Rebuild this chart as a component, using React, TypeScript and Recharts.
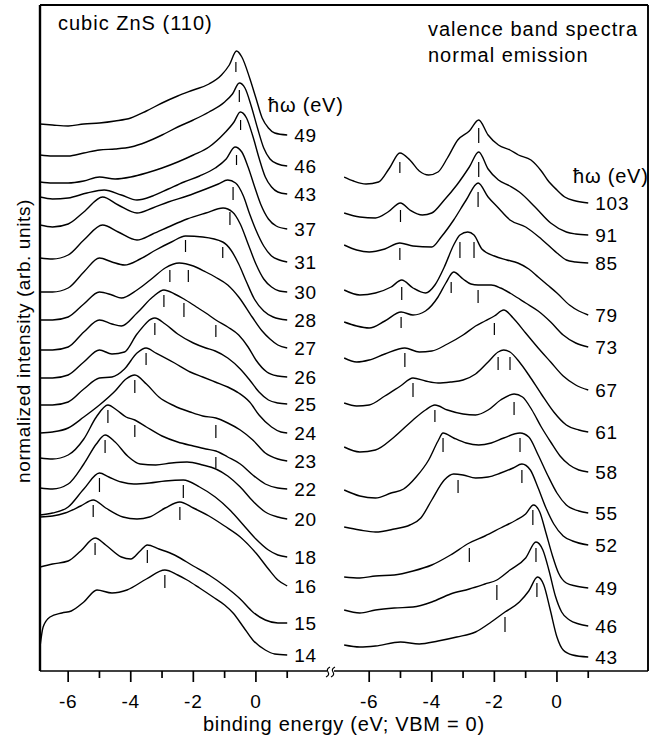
import React from 'react';
import { LineChart, Line, XAxis, YAxis, ReferenceLine, LabelList } from 'recharts';

type Pt = [number, number];
type Pt3 = [number, number, number];

const FONT = "'Liberation Sans', Arial, Helvetica, sans-serif";
const INK = '#000';

// right panel energies are drawn shifted by this many eV on one shared axis
const RIGHT_SHIFT = 9.62;
const X_MIN = -6.9;
const X_MAX = 12.53;
const Y_MAX = 666;

const axisEnergies = [-6, -5, -4, -3, -2, -1, 0, 1];

// ---- left panel: hv (eV), baseline offset, spectrum [binding energy, intensity above baseline]
const leftHv = [49, 46, 43, 37, 31, 30, 28, 27, 26, 25, 24, 23, 22, 20, 18, 16, 15, 14];
const leftBase = [536, 505, 477, 442, 409, 379, 351, 323, 294, 267, 238, 210, 182, 152, 114, 85, 48, 16];

const l49: Pt[] = [[-6.9, 11], [-6.5, 10], [-6, 9], [-5.5, 11], [-5, 12], [-4.5, 14], [-4, 17], [-3.5, 24], [-3, 32], [-2.5, 39], [-2, 45], [-1.5, 51], [-1.1, 60], [-0.85, 70], [-0.62, 84], [-0.45, 78], [-0.2, 57], [0, 37], [0.2, 17], [0.4, 7], [0.6, 2], [1, 0]];
const l46: Pt[] = [[-6.9, 11], [-6.5, 10], [-6, 10], [-5.5, 13], [-5, 16], [-4.5, 17], [-4, 19], [-3.5, 24], [-3, 31], [-2.5, 39], [-2, 46], [-1.5, 54], [-1, 64], [-0.75, 72], [-0.53, 83], [-0.35, 78], [-0.15, 60], [0.05, 38], [0.25, 18], [0.45, 7], [0.7, 2], [1, 0]];
const l43: Pt[] = [[-6.9, 12], [-6.5, 11], [-6, 11], [-5.5, 13], [-5, 17], [-4.5, 15], [-4, 17], [-3.5, 21], [-3, 26], [-2.5, 32], [-2, 39], [-1.5, 47], [-1, 61], [-0.7, 72], [-0.5, 82], [-0.3, 76], [-0.1, 58], [0.1, 36], [0.3, 17], [0.5, 7], [0.7, 2], [1, 0]];
const l37: Pt[] = [[-6.9, 32], [-6.5, 30], [-6, 31], [-5.4, 36], [-4.85, 39], [-4.3, 34], [-3.8, 29], [-3.3, 33], [-2.8, 40], [-2.3, 47], [-1.8, 53], [-1.3, 61], [-0.95, 70], [-0.67, 82], [-0.45, 77], [-0.25, 62], [-0.05, 43], [0.15, 25], [0.4, 10], [0.65, 3], [1, 0]];
const l31: Pt[] = [[-6.9, 37], [-6.5, 35], [-6, 38], [-5.5, 50], [-4.9, 65], [-4.4, 57], [-3.8, 49], [-3.3, 54], [-2.8, 60], [-2.2, 66], [-1.6, 73], [-1.2, 78], [-0.9, 82], [-0.65, 79], [-0.4, 66], [-0.2, 48], [0, 32], [0.25, 16], [0.5, 6], [0.75, 2], [1, 0]];
const l30: Pt[] = [[-6.9, 34], [-6.5, 33], [-6, 37], [-5.5, 52], [-4.9, 67], [-4.4, 60], [-3.8, 52], [-3.3, 58], [-2.8, 65], [-2.2, 73], [-1.6, 79], [-1.05, 84], [-0.75, 80], [-0.5, 68], [-0.25, 48], [0, 28], [0.25, 13], [0.5, 5], [0.75, 1], [1, 0]];
const l28: Pt[] = [[-6.9, 28], [-6.5, 28], [-6, 32], [-5.5, 48], [-5, 62], [-4.6, 58], [-4.2, 55], [-3.7, 61], [-3.2, 70], [-2.7, 78], [-2.25, 84], [-1.7, 83], [-1.06, 78], [-0.8, 70], [-0.55, 56], [-0.3, 38], [-0.05, 21], [0.25, 9], [0.55, 3], [1, 0]];
const l27: Pt[] = [[-6.9, 28], [-6.5, 28], [-6, 31], [-5.5, 44], [-5, 56], [-4.6, 53], [-4.3, 50], [-3.8, 58], [-3.3, 70], [-2.9, 80], [-2.45, 85], [-2, 82], [-1.6, 76], [-1.3, 71], [-0.9, 63], [-0.55, 51], [-0.12, 31], [0.2, 17], [0.45, 9], [0.7, 3], [1, 0]];
const l26: Pt[] = [[-6.9, 27], [-6.5, 27], [-6, 30], [-5.5, 45], [-5, 57], [-4.6, 53], [-4.3, 51], [-3.8, 64], [-3.3, 80], [-2.94, 87], [-2.6, 83], [-2.3, 78], [-1.9, 70], [-1.6, 64], [-1.28, 57], [-0.9, 50], [-0.55, 42], [-0.25, 30], [0, 17], [0.35, 5], [0.7, 1], [1, 0]];
const l25: Pt[] = [[-6.9, 26], [-6.5, 26], [-6, 29], [-5.5, 42], [-5, 54], [-4.6, 50], [-4.2, 52], [-3.8, 70], [-3.23, 86], [-2.9, 80], [-2.5, 70], [-2, 61], [-1.6, 56], [-1.3, 53], [-0.9, 46], [-0.5, 35], [-0.2, 24], [0.1, 12], [0.4, 4], [0.7, 1], [1, 0]];
const l24: Pt[] = [[-6.9, 28], [-6.5, 28], [-6, 31], [-5.5, 44], [-5, 55], [-4.6, 56], [-4.2, 64], [-3.8, 80], [-3.51, 85], [-3.2, 80], [-2.6, 70], [-2.1, 61], [-1.7, 56], [-1.3, 51], [-0.9, 46], [-0.55, 40], [-0.2, 31], [0.1, 18], [0.5, 6], [0.8, 1], [1, 0]];
const l23: Pt[] = [[-6.9, 28], [-6.5, 29], [-6, 33], [-5.5, 44], [-5, 56], [-4.5, 70], [-4.15, 82], [-3.87, 86], [-3.5, 77], [-3.1, 64], [-2.6, 55], [-2.1, 49], [-1.7, 45], [-1.28, 43], [-0.9, 38], [-0.5, 31], [-0.1, 21], [0.3, 8], [0.7, 2], [1, 0]];
const l22: Pt[] = [[-6.9, 31], [-6.5, 30], [-6, 34], [-5.5, 50], [-5.1, 72], [-4.73, 84], [-4.45, 79], [-4.15, 72], [-3.87, 69], [-3.5, 62], [-3, 53], [-2.5, 47], [-2, 43], [-1.6, 40], [-1.28, 38], [-0.9, 32], [-0.5, 25], [-0.1, 14], [0.3, 5], [0.7, 1], [1, 0]];
const l20: Pt[] = [[-6.9, 31], [-6.5, 30], [-6, 35], [-5.5, 55], [-5.1, 75], [-4.82, 84], [-4.5, 77], [-4.1, 63], [-3.7, 55], [-3.2, 54], [-2.7, 56], [-2.2, 57], [-1.7, 54], [-1.28, 50], [-0.9, 43], [-0.5, 32], [-0.1, 18], [0.3, 7], [0.7, 2], [1, 0]];
const l18: Pt[] = [[-6.9, 42], [-6.5, 44], [-6, 50], [-5.5, 68], [-5, 84], [-4.7, 80], [-4.3, 75], [-3.9, 73], [-3.4, 74], [-2.9, 76], [-2.32, 77], [-1.8, 70], [-1.3, 60], [-0.8, 46], [-0.4, 32], [0, 18], [0.4, 7], [0.7, 2], [1, 0]];
const l16: Pt[] = [[-6.9, 69], [-6.5, 70], [-6.1, 73], [-5.6, 80], [-5.2, 86], [-4.8, 78], [-4.25, 69], [-3.8, 67], [-3.4, 69], [-2.9, 78], [-2.43, 84], [-2, 78], [-1.5, 70], [-1, 60], [-0.5, 49], [0, 33], [0.4, 17], [0.7, 6], [1, 0]];
const l15: Pt[] = [[-6.9, 56], [-6.5, 59], [-6, 62], [-5.6, 72], [-5.14, 85], [-4.8, 78], [-4.3, 66], [-4, 64], [-3.7, 72], [-3.47, 78], [-3.1, 74], [-2.6, 68], [-2, 57], [-1.5, 48], [-1, 37], [-0.5, 24], [-0.1, 11], [0.3, 3], [0.7, 0], [1, 0]];
const l14: Pt[] = [[-6.9, 8], [-6.8, 28], [-6.58, 38], [-6.2, 42], [-5.9, 44], [-5.5, 53], [-5.08, 65], [-4.6, 62], [-4.12, 65], [-3.5, 76], [-2.91, 85], [-2.5, 80], [-2.2, 75], [-1.8, 67], [-1.37, 58], [-1, 50], [-0.73, 42], [-0.4, 28], [-0.1, 15], [0.3, 5], [0.6, 1], [1, 0]];

const leftSpectra = [l49, l46, l43, l37, l31, l30, l28, l27, l26, l25, l24, l23, l22, l20, l18, l16, l15, l14];

// ---- right panel
const rightHv = [103, 91, 85, 79, 73, 67, 61, 58, 55, 52, 49, 46, 43];
const rightBase = [468, 436, 408, 356, 324, 281, 239, 199, 158, 126, 83, 45, 14];

const r103: Pt[] = [[-6.8, 26], [-6.5, 22], [-6.1, 19], [-5.7, 21], [-5.35, 35], [-5.02, 50], [-4.7, 43], [-4.4, 32], [-4.1, 28], [-3.8, 31], [-3.5, 45], [-3.17, 63], [-2.8, 72], [-2.5, 83], [-2.2, 68], [-1.87, 58], [-1.5, 53], [-1.23, 48], [-0.83, 43], [-0.5, 32], [-0.3, 23], [0, 13], [0.25, 6], [0.6, 2], [1, 0]];
const r91: Pt[] = [[-6.8, 22], [-6.3, 18], [-5.8, 17], [-5.4, 23], [-5, 32], [-4.7, 25], [-4.3, 20], [-4, 22], [-3.6, 35], [-3.2, 50], [-2.8, 68], [-2.5, 83], [-2.2, 66], [-1.87, 55], [-1.5, 49], [-1.2, 43], [-0.7, 28], [-0.2, 12], [0.3, 3], [0.6, 1], [1, 0]];
const r85: Pt[] = [[-6.8, 18], [-6.4, 13], [-6, 11], [-5.5, 14], [-5.02, 20], [-4.6, 17], [-4, 16], [-3.7, 26], [-3.3, 43], [-2.9, 63], [-2.52, 80], [-2.2, 66], [-1.9, 56], [-1.5, 43], [-1, 36], [-0.5, 24], [0, 10], [0.3, 3], [0.6, 1], [1, 0]];
const r79: Pt[] = [[-6.8, 25], [-6.3, 20], [-5.8, 22], [-5.3, 28], [-4.96, 35], [-4.6, 27], [-4.2, 22], [-3.9, 30], [-3.6, 48], [-3.3, 70], [-3.1, 80], [-2.85, 83], [-2.65, 80], [-2.4, 66], [-2, 59], [-1.6, 55], [-1.25, 52], [-0.9, 46], [-0.6, 38], [-0.3, 30], [0, 22], [0.4, 10], [0.7, 4], [1, 0]];
const r73: Pt[] = [[-6.8, 25], [-6.4, 21], [-6, 19], [-5.5, 26], [-4.98, 35], [-4.6, 32], [-4.2, 36], [-3.8, 50], [-3.55, 64], [-3.3, 75], [-3, 68], [-2.75, 63], [-2.52, 62], [-2.1, 62], [-1.8, 59], [-1.4, 52], [-1, 44], [-0.6, 36], [-0.2, 25], [0.2, 12], [0.6, 4], [1, 0]];
const r67: Pt[] = [[-6.8, 32], [-6.4, 28], [-6, 30], [-5.5, 36], [-4.86, 42], [-4.4, 38], [-4, 39], [-3.5, 46], [-3, 55], [-2.6, 64], [-2.3, 69], [-2, 74], [-1.7, 80], [-1.4, 72], [-1, 57], [-0.6, 42], [-0.2, 28], [0.2, 14], [0.6, 5], [1, 0]];
const r61: Pt[] = [[-6.8, 29], [-6.4, 26], [-6, 27], [-5.5, 36], [-5, 46], [-4.6, 54], [-4.2, 51], [-3.8, 49], [-3.4, 50], [-3, 52], [-2.6, 58], [-2.2, 70], [-1.88, 80], [-1.7, 82], [-1.5, 80], [-1.2, 70], [-0.9, 57], [-0.5, 38], [-0.1, 20], [0.3, 7], [0.7, 2], [1, 0]];
const r58: Pt[] = [[-6.8, 25], [-6.3, 20], [-5.8, 22], [-5.2, 35], [-4.6, 52], [-4.2, 62], [-3.9, 67], [-3.5, 62], [-3, 58], [-2.6, 57], [-2.2, 62], [-1.8, 72], [-1.37, 78], [-1.1, 75], [-0.8, 62], [-0.5, 45], [-0.2, 30], [0.1, 16], [0.4, 7], [0.7, 2], [1, 0]];
const r55: Pt[] = [[-6.8, 23], [-6.3, 17], [-5.8, 15], [-5.3, 20], [-4.9, 24], [-4.5, 36], [-4.1, 53], [-3.8, 72], [-3.64, 80], [-3.3, 75], [-2.9, 70], [-2.5, 68], [-2.1, 70], [-1.7, 75], [-1.18, 80], [-0.9, 76], [-0.6, 58], [-0.3, 38], [0, 20], [0.3, 8], [0.7, 2], [1, 0]];
const r52: Pt[] = [[-6.8, 18], [-6.3, 15], [-5.8, 13], [-5.2, 16], [-4.7, 20], [-4.35, 27], [-4, 45], [-3.6, 65], [-3.3, 71], [-3, 70], [-2.6, 67], [-2.2, 68], [-1.8, 72], [-1.4, 77], [-1.12, 81], [-0.85, 75], [-0.6, 57], [-0.35, 37], [-0.1, 21], [0.2, 9], [0.5, 4], [1, 0]];
const r49: Pt[] = [[-6.8, 11], [-6.3, 10], [-5.8, 12], [-5.2, 13], [-4.6, 17], [-4, 23], [-3.4, 33], [-2.8, 45], [-2.3, 52], [-1.8, 60], [-1.3, 68], [-1, 74], [-0.75, 83], [-0.55, 76], [-0.35, 55], [-0.15, 33], [0.05, 15], [0.3, 5], [0.6, 2], [1, 0]];
const r46: Pt[] = [[-6.8, 16], [-6.3, 13], [-5.8, 16], [-5.2, 18], [-4.6, 19], [-4, 24], [-3.4, 32], [-2.8, 37], [-2.3, 42], [-1.92, 46], [-1.5, 56], [-1, 68], [-0.67, 84], [-0.45, 76], [-0.25, 55], [-0.05, 30], [0.15, 14], [0.4, 6], [0.7, 2], [1, 0]];
const r43: Pt[] = [[-6.8, 12], [-6.3, 10], [-5.8, 11], [-5, 15], [-4.4, 13], [-3.8, 16], [-3.2, 20], [-2.6, 25], [-2.1, 35], [-1.66, 45], [-1.2, 55], [-0.9, 66], [-0.62, 80], [-0.42, 72], [-0.22, 48], [0, 20], [0.2, 7], [0.5, 2], [1, 0]];

const rightSpectra = [r103, r91, r85, r79, r73, r67, r61, r58, r55, r52, r49, r46, r43];

// peak markers: [binding energy, lower end, upper end] in intensity units
const leftMarks: Pt3[] = [
  [-0.64, 599, 609], [-0.53, 569, 581], [-0.49, 541, 551], [-0.62, 506, 516], [-0.73, 471, 484], [-0.83, 446, 459],
  [-2.25, 419, 431], [-1.06, 413, 424], [-2.75, 389, 401], [-2.16, 389, 401],
  [-2.94, 364, 376], [-2.3, 354, 368], [-1.28, 334, 346], [-3.23, 336, 348], [-3.51, 306, 318],
  [-3.87, 278, 291], [-1.28, 233, 246], [-4.73, 248, 261], [-3.87, 234, 246], [-1.28, 203, 214],
  [-4.82, 218, 231], [-5.0, 179, 193], [-2.32, 173, 186], [-5.2, 154, 166], [-2.43, 151, 164],
  [-5.14, 116, 128], [-3.47, 108, 121], [-2.91, 83, 96],
];
const rightMarks: Pt3[] = [
  [-5.02, 498, 509], [-2.5, 528, 543], [-5.0, 449, 461], [-2.5, 494, 509], [-5.02, 411, 423], [-2.52, 464, 479],
  [-4.96, 371, 384], [-3.1, 413, 429], [-2.65, 413, 429], [-4.98, 343, 354], [-3.38, 378, 389], [-2.52, 368, 381],
  [-4.86, 304, 318], [-2.0, 336, 348], [-4.6, 274, 288], [-1.88, 301, 314], [-1.5, 301, 314],
  [-3.9, 249, 261], [-1.37, 256, 269], [-3.64, 219, 233], [-1.18, 219, 233], [-3.16, 178, 191], [-1.12, 188, 201],
  [-0.77, 146, 161], [-2.8, 109, 123], [-0.67, 109, 123], [-1.92, 71, 86], [-0.64, 74, 88], [-1.66, 39, 54],
];

const toRows = (pts: Pt[], base: number, shift: number) =>
  pts.map(([e, r]) => ({ e: e + shift, v: base + r }));

const endLabel = (hv: number, last: number) => (props: any) => {
  if (props.index !== last) return null;
  return (
    <text x={props.x + 7} y={props.y + 6.5} fontSize={19} letterSpacing={0.8} fill={INK} fontFamily={FONT}>
      {hv}
    </text>
  );
};

const AxisTick = (props: any) => {
  const { x, y, payload } = props;
  const v = payload.value;
  const e = Math.round(v > 3 ? v - RIGHT_SHIFT : v);
  const major = e % 2 === 0;
  return (
    <g>
      <line x1={x} x2={x} y1={y} y2={y + (major ? 11 : 7)} stroke={INK} strokeWidth={1.7} />
      {major && (
        <text x={x} y={y + 37} textAnchor="middle" fontSize={19} letterSpacing={0.8} fill={INK} fontFamily={FONT}>
          {e === 0 ? '0' : `-${Math.abs(e)}`}
        </text>
      )}
    </g>
  );
};

const axisTicks = [...axisEnergies, ...axisEnergies.map((e) => e + RIGHT_SHIFT)];

const App: React.FC = () => {
  const lineProps = { dataKey: 'v', stroke: INK, strokeWidth: 1.4, dot: false, isAnimationActive: false, type: 'monotone' as const };
  return (
    <div style={{ position: 'absolute', left: 0, top: 0, width: 662, height: 743, background: '#fff' }}>
      <LineChart width={662} height={743} margin={{ top: 5, right: 14, bottom: 42, left: 40 }}>
        <XAxis
          dataKey="e"
          type="number"
          domain={[X_MIN, X_MAX]}
          allowDataOverflow
          ticks={axisTicks}
          interval={0}
          tickSize={0}
          tickMargin={0}
          tick={<AxisTick />}
          height={30}
          axisLine={{ stroke: INK, strokeWidth: 1.7 }}
          tickLine={false}
        />
        <YAxis type="number" domain={[0, Y_MAX]} hide allowDataOverflow />
        <ReferenceLine x={X_MIN} stroke={INK} strokeWidth={2.4} />
        <ReferenceLine x={X_MAX} stroke={INK} strokeWidth={1.9} />
        <ReferenceLine y={Y_MAX} stroke={INK} strokeWidth={1.9} />
        {leftSpectra.map((pts, i) => (
          <Line key={`l${i}`} {...lineProps} data={toRows(pts, leftBase[i], 0)}>
            <LabelList dataKey="v" content={endLabel(leftHv[i], pts.length - 1)} />
          </Line>
        ))}
        {rightSpectra.map((pts, i) => (
          <Line key={`r${i}`} {...lineProps} data={toRows(pts, rightBase[i], RIGHT_SHIFT)}>
            <LabelList dataKey="v" content={endLabel(rightHv[i], pts.length - 1)} />
          </Line>
        ))}
        {leftMarks.map(([e, a, b], i) => (
          <ReferenceLine key={`lm${i}`} segment={[{ x: e, y: a }, { x: e, y: b }]} stroke={INK} strokeWidth={1.2} />
        ))}
        {rightMarks.map(([e, a, b], i) => (
          <ReferenceLine key={`rm${i}`} segment={[{ x: e + RIGHT_SHIFT, y: a }, { x: e + RIGHT_SHIFT, y: b }]} stroke={INK} strokeWidth={1.2} />
        ))}
      </LineChart>
      <svg width={662} height={743} style={{ position: 'absolute', left: 0, top: 0, pointerEvents: 'none' }}>
        <g fontFamily={FONT} fill={INK} fontSize={20} letterSpacing={1}>
          <text x={58} y={30}>cubic ZnS (110)</text>
          <text x={428} y={36}>valence band spectra</text>
          <text x={428} y={62}>normal emission</text>
          <text x={268} y={112} letterSpacing={0.8}>ħω (eV)</text>
          <text x={573} y={183} letterSpacing={0.8}>ħω (eV)</text>
          <text x={203} y={731} letterSpacing={0.7}>binding energy (eV; VBM = 0)</text>
          <text transform="translate(30,341) rotate(-90)" textAnchor="middle" fontSize={19} letterSpacing={0.6}>
            normalized intensity (arb. units)
          </text>
        </g>
        <rect x={327} y={666} width={7} height={10} fill="#fff" />
        <path d="M326 677 q4 -2 2 -5 q-2 -3 2 -5 M331 677 q4 -2 2 -5 q-2 -3 2 -5" stroke={INK} strokeWidth={1.2} fill="none" />
      </svg>
    </div>
  );
};

export default App;
